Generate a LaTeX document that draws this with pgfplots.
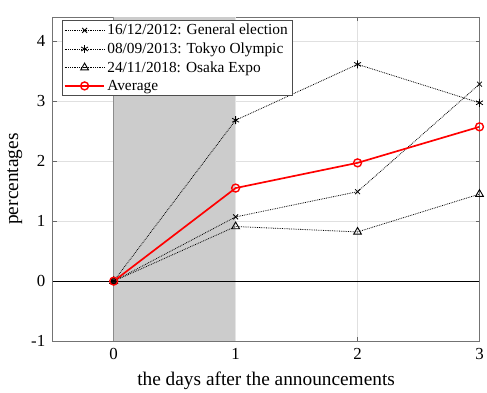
\documentclass[border=0pt]{standalone}
\usepackage{pgfplots}
\pgfplotsset{compat=1.18}
\usepackage{fontspec}
\setmainfont{Liberation Serif}
\begin{document}
\begin{tikzpicture}
\begin{axis}[
  scale only axis,
  width=429bp, height=326bp,
  xmin=-0.5, xmax=3, ymin=-1, ymax=4.4,
  xtick={0,1,2,3}, ytick={-1,0,1,2,3,4},
  yticklabels={-1,0,1,2,3,4},
  /pgf/number format/assume math mode=true,
  tick label style={font=\fontsize{17}{18}\selectfont},
  label style={font=\fontsize{19.5}{21}\selectfont},
  xlabel={the days after the announcements},
  ylabel={percentages},
  ylabel style={yshift=2bp},
  xlabel style={yshift=-5bp},
  tick align=inside,
  major tick length=4bp,
  tick style={color=black!60, line width=0.5pt},
  axis line style={color=black!55, line width=0.6pt},
  grid=major,
  major grid style={color=black!12, line width=0.5pt},
  xticklabel style={yshift=-4bp},
  yticklabel style={xshift=-4bp},
  legend style={at={(0.021,0.99)}, anchor=north west, draw=black!70,
    font=\fontsize{15.5}{18.5}\selectfont, row sep=2.5bp, inner sep=2pt,
    cells={anchor=west}},
  legend cell align=left,
  legend image code/.code={\draw[mark repeat=2,mark phase=2,#1]
    plot coordinates {(0bp,0bp) (20bp,0bp) (40bp,0bp)};},
]
% shaded announcement day
\fill[black!20] (axis cs:0,-1) rectangle (axis cs:1,4.4);
\draw[black!45, line width=0.5pt] (axis cs:0,-1) -- (axis cs:0,4.4);
\draw[black!10, line width=0.5pt] (axis cs:1,-1) -- (axis cs:1,4.4);
% zero line
\draw[black, line width=0.7pt] (axis cs:-0.5,0) -- (axis cs:3,0);

\addplot[black, densely dotted, line width=0.8pt, mark=x, mark size=3.5pt, mark options={solid}]
  coordinates {(0,0) (1,1.07) (2,1.49) (3,3.28)};
\addlegendentry{16/12/2012: General election}
\addplot[black, densely dotted, line width=0.8pt, mark=asterisk, mark size=4pt, mark options={solid}]
  coordinates {(0,0) (1,2.68) (2,3.61) (3,2.97)};
\addlegendentry{08/09/2013: Tokyo Olympic}
\addplot[black, densely dotted, line width=0.8pt, mark=triangle, mark size=4.5pt, mark options={solid, line width=0.9pt}]
  coordinates {(0,0) (1,0.91) (2,0.82) (3,1.45)};
\addlegendentry{24/11/2018: Osaka Expo}
\addplot[red, line width=1.7pt, mark=o, mark size=4pt, mark options={solid, line width=1.4pt}]
  coordinates {(0,0) (1,1.55) (2,1.97) (3,2.57)};
\addlegendentry{Average}
\end{axis}
% white margins around the frame
\path ([yshift=17bp]current axis.north);
\path ([xshift=-53bp]current axis.west);
\end{tikzpicture}
\end{document}
